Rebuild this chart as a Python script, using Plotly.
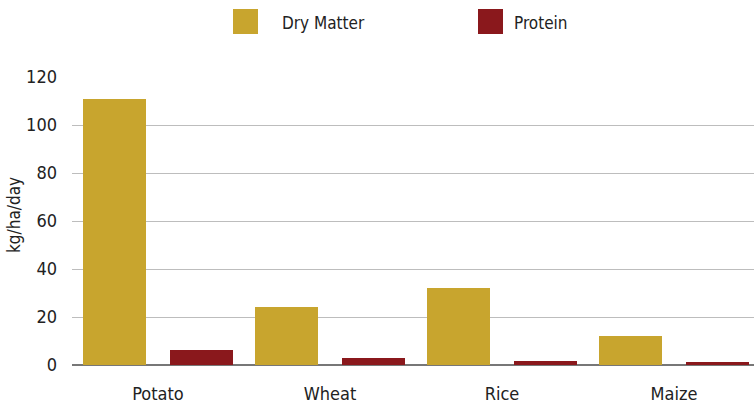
import plotly.graph_objects as go

categories = ["Potato", "Wheat", "Rice", "Maize"]
dry_matter = [111, 24, 32, 12.2]
protein = [6.3, 3.0, 1.8, 1.3]
series_names = ["Dry Matter", "Protein"]
series_colors = ["#C8A52E", "#8A181C"]
y_ticks = [0, 20, 40, 60, 80, 100, 120]
y_title = "kg/ha/day"

FONT = "DejaVu Sans Condensed, DejaVu Sans, sans-serif"

W, H = 754, 406
ml, mt, mb, mr = 72, 77, 41, 0
pw = W - ml - mr
ph = H - mt - mb


def px(x):
    return (x - ml) / pw


def py(y):
    return 1 - (y - mt) / ph


fig = go.Figure()
fig.add_trace(go.Bar(x=categories, y=dry_matter, name=series_names[0],
                     marker=dict(color=series_colors[0], line=dict(width=0)),
                     width=0.366, offset=-0.436, showlegend=False))
fig.add_trace(go.Bar(x=categories, y=protein, name=series_names[1],
                     marker=dict(color=series_colors[1], line=dict(width=0)),
                     width=0.366, offset=0.070, showlegend=False))

leg = [(233, 280), (478, 512)]
for (sx, tx), name, col in zip(leg, series_names, series_colors):
    fig.add_shape(type="rect", xref="paper", yref="paper",
                  x0=px(sx), x1=px(sx + 25), y0=py(34), y1=py(9),
                  fillcolor=col, line=dict(width=0))
    fig.add_annotation(xref="paper", yref="paper", x=px(tx), y=py(23),
                       text=name, showarrow=False, xanchor="left", yanchor="middle",
                       font=dict(family=FONT, size=17, color="#222"))

fig.add_annotation(xref="paper", yref="paper", x=px(14), y=py(215),
                   text=y_title, textangle=-90, showarrow=False,
                   xanchor="center", yanchor="middle", borderpad=0,
                   font=dict(family=FONT, size=17, color="#222"))

fig.update_layout(
    width=W, height=H,
    margin=dict(l=ml, r=mr, t=mt, b=mb, pad=0, autoexpand=False),
    plot_bgcolor="white", paper_bgcolor="white",
    font=dict(family=FONT, size=17, color="#222"),
    bargap=0,
)
fig.update_xaxes(range=[-0.5, -0.5 + pw / 172.0], showgrid=False, showline=False,
                 ticks="", ticklabelstandoff=16, tickfont=dict(size=18))
fig.update_yaxes(range=[0, 120], tickvals=y_ticks, showgrid=True, gridcolor="#BDBDBD",
                 gridwidth=1, zeroline=True, zerolinecolor="#777777", zerolinewidth=2,
                 showline=False, ticks="", ticklabelstandoff=14, tickfont=dict(size=18))

fig.write_html("out.html", config={"displayModeBar": False},
               post_script="document.body.style.margin='0px';")
